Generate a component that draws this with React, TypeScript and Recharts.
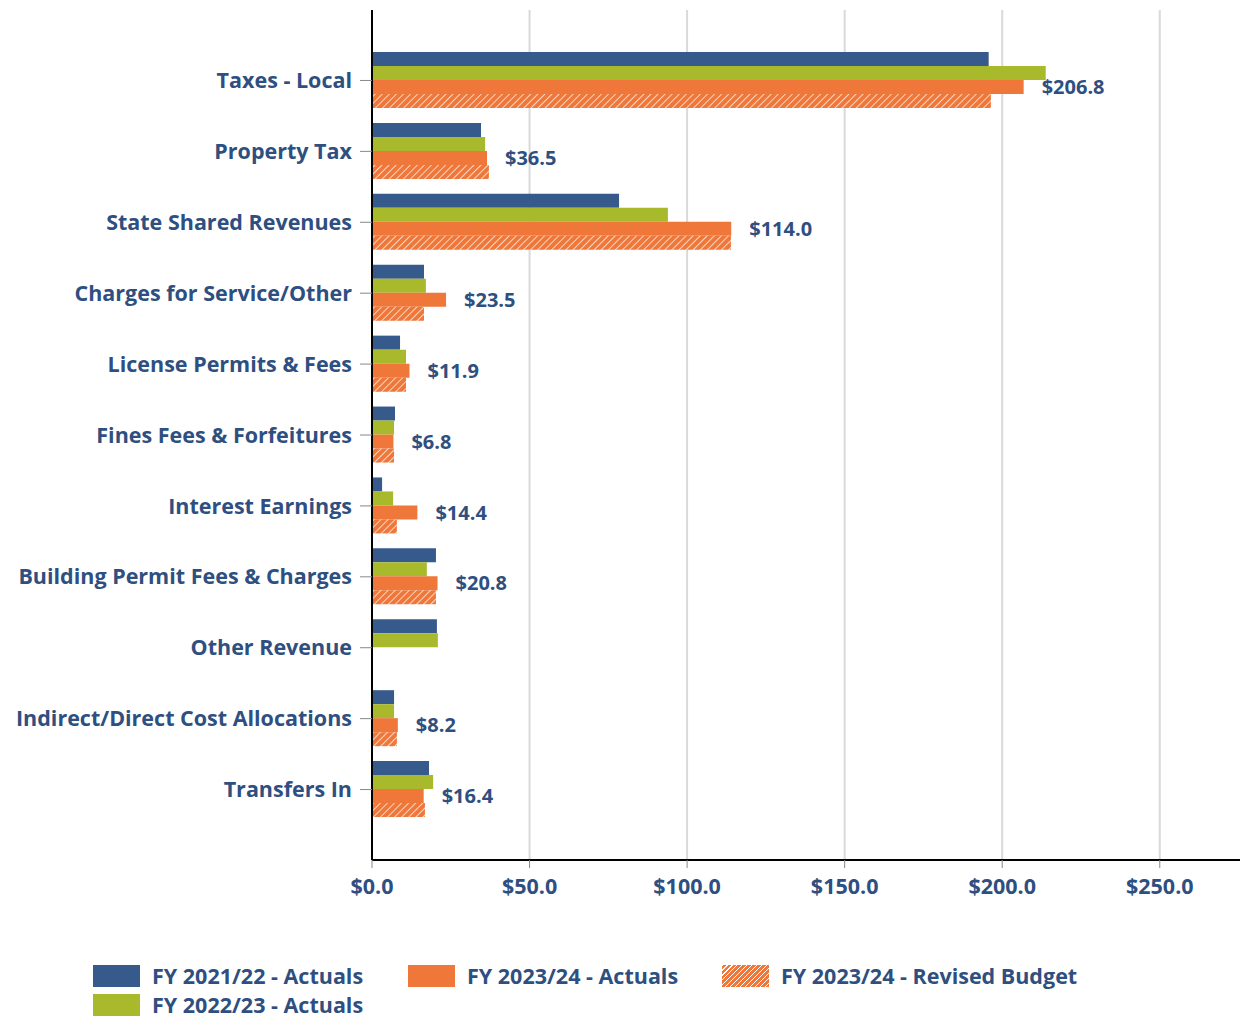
import React from 'react';
import {
  BarChart, Bar, XAxis, YAxis, CartesianGrid, LabelList,
} from 'recharts';

const categories = [
  'Taxes - Local',
  'Property Tax',
  'State Shared Revenues',
  'Charges for Service/Other',
  'License Permits & Fees',
  'Fines Fees & Forfeitures',
  'Interest Earnings',
  'Building Permit Fees & Charges',
  'Other Revenue',
  'Indirect/Direct Cost Allocations',
  'Transfers In',
];

const actuals2122 = [195.7, 34.6, 78.4, 16.5, 8.9, 7.3, 3.2, 20.3, 20.6, 7.0, 18.1];
const actuals2223 = [213.8, 35.9, 93.9, 17.1, 10.8, 7.0, 6.7, 17.4, 20.9, 7.0, 19.4];
const actuals2324 = [206.8, 36.5, 114.0, 23.5, 11.9, 6.8, 14.4, 20.8, 0, 8.2, 16.4];
const revised2324 = [196.4, 37.1, 113.9, 16.5, 10.8, 7.0, 7.9, 20.3, 0, 7.9, 16.8];

const xTicks = [0, 50, 100, 150, 200, 250];

const BLUE = '#375A8C';
const GREEN = '#A8B92C';
const ORANGE = '#EE7739';
const TEXT = '#2E4F80';
const FONT = '"Open Sans", Arial, sans-serif';

const data = categories.map((name, i) => ({
  name,
  a2122: actuals2122[i],
  a2223: actuals2223[i],
  a2324: actuals2324[i],
  r2324: revised2324[i],
}));

const legendItems = [
  { label: 'FY 2021/22 - Actuals', fill: BLUE, left: 85, top: 957 },
  { label: 'FY 2022/23 - Actuals', fill: GREEN, left: 85, top: 986 },
  { label: 'FY 2023/24 - Actuals', fill: ORANGE, left: 400, top: 957 },
  { label: 'FY 2023/24 - Revised Budget', fill: 'hatch', left: 714, top: 957 },
];

const hatchBg =
  'repeating-linear-gradient(-45deg, #EE7739 0px, #EE7739 2.5px, #ffffff 2.5px, #ffffff 3.5px)';

export default function App() {
  return (
    <div style={{ position: 'relative', width: 1240, height: 1010, fontFamily: FONT }}>
      <BarChart
        width={1240}
        height={930}
        data={data}
        layout="vertical"
        barSize={14}
        barGap={0}
        margin={{ top: 2, right: 0, bottom: 0, left: 0 }}
      >
        <defs>
          <pattern id="hatch" width="5" height="5" patternUnits="userSpaceOnUse" patternTransform="rotate(45)">
            <rect width="5" height="5" fill={ORANGE} />
            <line x1="0" y1="0" x2="0" y2="5" stroke="#ffffff" strokeWidth="1.4" />
          </pattern>
        </defs>
        <CartesianGrid horizontal={false} stroke="#d9d9d9" strokeWidth={2} />
        <XAxis
          type="number"
          domain={[0, 278]}
          ticks={xTicks}
          height={78}
          axisLine={{ stroke: '#000', strokeWidth: 2 }}
          tickLine={{ stroke: '#888' }}
          tickSize={8}
          tickMargin={11}
          tickFormatter={(v: number) => `$${v.toFixed(1)}`}
          tick={{ fill: TEXT, fontSize: 21.5, fontWeight: 700, fontFamily: FONT }}
        />
        <YAxis
          type="category"
          dataKey="name"
          width={364}
          padding={{ top: 35, bottom: 35 }}
          axisLine={{ stroke: '#000', strokeWidth: 2 }}
          tickLine={{ stroke: '#888' }}
          tickSize={12}
          tickMargin={8}
          interval={0}
          tick={{ fill: TEXT, fontSize: 21.5, fontWeight: 700, fontFamily: FONT }}
        />
        <Bar dataKey="a2122" fill={BLUE} isAnimationActive={false} />
        <Bar dataKey="a2223" fill={GREEN} isAnimationActive={false} />
        <Bar dataKey="a2324" fill={ORANGE} isAnimationActive={false}>
          <LabelList
            dataKey="a2324"
            position="right"
            offset={18}
            formatter={(v: number) => (v ? `$${v.toFixed(1)}` : '')}
            style={{ fill: TEXT, fontSize: 20, fontWeight: 700, fontFamily: FONT }}
          />
        </Bar>
        <Bar dataKey="r2324" fill="url(#hatch)" isAnimationActive={false} />
      </BarChart>
      {legendItems.map((it) => (
        <div
          key={it.label}
          style={{
            position: 'absolute',
            left: it.left,
            top: it.top,
            display: 'flex',
            alignItems: 'center',
            height: 22,
          }}
        >
          <div
            style={{
              width: 47,
              height: 22,
              background: it.fill === 'hatch' ? hatchBg : it.fill,
              marginRight: 12,
            }}
          />
          <span
            style={{
              color: TEXT,
              fontSize: 21.5,
              lineHeight: '22px',
              fontWeight: 700,
              whiteSpace: 'nowrap',
            }}
          >
            {it.label}
          </span>
        </div>
      ))}
    </div>
  );
}
